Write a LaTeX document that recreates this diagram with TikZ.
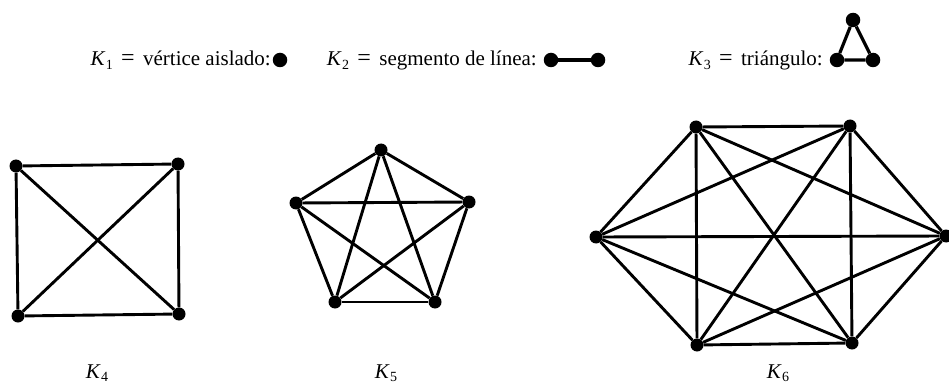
\documentclass[tikz,border=0pt]{standalone}
\usepackage{fontspec}
\setmainfont{Liberation Serif}
\newcommand\Kk[1]{\textit{K}\kern0.3pt\raisebox{-0.35ex}{\fontsize{14}{14}\selectfont #1}}
\newcommand\eqs{\hspace{0.4em}{\fontsize{24}{24}\selectfont =}\hspace{0.4em}}
\begin{document}
\begin{tikzpicture}[x=1pt,y=-1pt,
  v/.style={circle,fill=black,inner sep=0pt,minimum size=13pt},
  vb/.style={v,minimum size=14.5pt},
  edge/.style={line width=2.9pt},
  edget/.style={line width=3.2pt},
  lbl/.style={font=\fontsize{21}{24}\selectfont,inner sep=0pt,anchor=base west},
  lble/.style={font=\fontsize{21}{24}\selectfont,inner sep=0pt,anchor=base east},
  glbl/.style={font=\fontsize{21}{24}\selectfont,inner sep=0pt,anchor=base}]
\useasboundingbox (0,0) rectangle (949,390);
% top row
\node[lble] (t1) at (271,66) {\Kk{1}\eqs vértice aislado:};
\node[vb] (a1) at (280,60) {};
\node[lble] (t2) at (537,66) {\Kk{2}\eqs segmento de línea:};
\node[vb] (b1) at (551,60) {};
\node[vb] (b2) at (598,60) {};
\draw[edget] (b1) -- (b2);
\node[lble] (t3) at (823,66) {\Kk{3}\eqs triángulo:};
\node[vb] (c1) at (853,20) {};
\node[vb] (c2) at (837,60) {};
\node[vb] (c3) at (873,60) {};
\draw[edget] (c1) -- (c2) -- (c3) -- (c1);
% K4
\node[v] (p1) at (16,166) {};
\node[v] (p2) at (178,164) {};
\node[v] (p3) at (179,314) {};
\node[v] (p4) at (18,316) {};
\foreach \i/\j in {1/2,1/3,1/4,2/3,2/4,3/4} \draw[edge] (p\i) -- (p\j);
% K5
\node[v] (q1) at (381,150) {};
\node[v] (q2) at (469,202) {};
\node[v] (q3) at (435,302) {};
\node[v] (q4) at (335,302) {};
\node[v] (q5) at (296,203) {};
\foreach \i/\j in {1/2,1/3,1/4,1/5,2/3,2/4,2/5,3/4,3/5,4/5} \draw[edge] (q\i) -- (q\j);
% K6
\node[v] (r1) at (696,127) {};
\node[v] (r2) at (850,126) {};
\node[v] (r3) at (946,236) {};
\node[v] (r4) at (852,343) {};
\node[v] (r5) at (697,345) {};
\node[v] (r6) at (596,237) {};
\foreach \i/\j in {1/2,1/3,1/4,1/5,1/6,2/3,2/4,2/5,2/6,3/4,3/5,3/6,4/5,4/6,5/6} \draw[edge] (r\i) -- (r\j);
% labels
\node[glbl] (l4) at (97,378) {\Kk{4}};
\node[glbl] (l5) at (386,378) {\Kk{5}};
\node[glbl] (l6) at (778,378) {\Kk{6}};
\end{tikzpicture}
\end{document}
